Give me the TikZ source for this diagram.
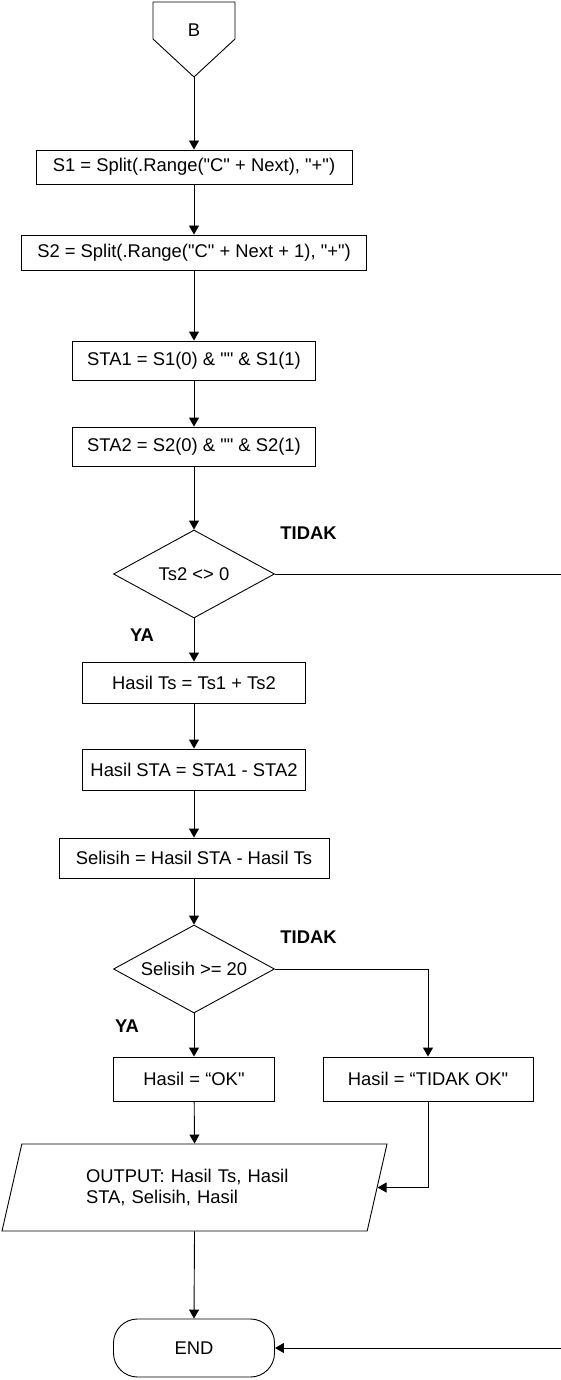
\documentclass[tikz,border=0pt]{standalone}
\usepackage{fontspec}
\setmainfont{Liberation Sans}[Ligatures=TeXOff]
\usetikzlibrary{arrows.meta,shapes.geometric}
\begin{document}
\begin{tikzpicture}[x=1pt,y=-1pt,
  every node/.style={font=\fontsize{18.4}{21}\selectfont},
  line/.style={line width=0.9pt},
  arr/.style={line, -{Triangle[length=9pt,width=10pt]}},
  proc/.style={draw, line width=0.9pt, rectangle, inner sep=0pt, anchor=center},
  decis/.style={draw, line width=0.9pt, diamond, inner sep=0pt, aspect=1.83, minimum width=161pt, minimum height=88pt},
  lbl/.style={font=\fontsize{18.4}{21}\selectfont\bfseries},
  iobox/.style={draw, line width=0.9pt, trapezium, trapezium left angle=61.6, trapezium right angle=118.4,
     trapezium stretches body, minimum width=385pt, minimum height=87pt, inner sep=0pt, text width=217pt, align=left},
  term/.style={draw, line width=0.9pt, rectangle, rounded corners=24pt, minimum width=161pt, minimum height=58pt}
]
\useasboundingbox (0,0) rectangle (561,1380);
% off-page connector B
\draw[line] (153,2) -- (235,2) -- (235,39) -- (194,77) -- (153,39) -- cycle;
\node (B) at (194,30) {B};
\coordinate (Btip) at (194,77);

\node[proc, minimum width=316pt, minimum height=34pt] (s1) at (194,167) {S1 = Split(.Range("C" + Next), "+")};
\node[proc, minimum width=345pt, minimum height=35pt] (s2) at (194,252.5) {S2 = Split(.Range("C" + Next + 1), "+")};
\node[proc, minimum width=243pt, minimum height=39pt] (sta1) at (194,360.5) {STA1 = S1(0) \& "" \& S1(1)};
\node[proc, minimum width=243pt, minimum height=39pt] (sta2) at (194,446.5) {STA2 = S2(0) \& "" \& S2(1)};
\node[decis] (d1) at (194,574) {Ts2 <> 0};
\node[lbl] (t1) at (308.5,533) {TIDAK};
\node[lbl] (y1) at (142,635) {YA};
\coordinate (r1) at (561,574);
\node[proc, minimum width=223pt, minimum height=41pt] (hts) at (194,682.5) {Hasil Ts = Ts1 + Ts2};
\node[proc, minimum width=223pt, minimum height=41pt] (hsta) at (194,769.5) {Hasil STA = STA1 - STA2};
\node[proc, minimum width=270pt, minimum height=40pt] (sel) at (194,858) {Selisih = Hasil STA - Hasil Ts};
\node[decis] (d2) at (194,969) {Selisih >= 20};
\node[lbl] (t2) at (308.5,937) {TIDAK};
\node[lbl] (y2) at (127,1026) {YA};
\node[proc, minimum width=161pt, minimum height=44pt] (ok) at (194,1079) {Hasil = “OK"};
\node[proc, minimum width=210pt, minimum height=44pt] (tok) at (428,1079) {Hasil = “TIDAK OK"};
\node[iobox] (out) at (194.5,1187.5) {OUTPUT: Hasil Ts, Hasil\\STA, Selisih, Hasil};
\node[term] (end) at (194,1348) {END};
\coordinate (r2) at (561,1348);

\draw[arr] (Btip) -- (s1);
\draw[arr] (s1) -- (s2);
\draw[arr] (s2) -- (sta1);
\draw[arr] (sta1) -- (sta2);
\draw[arr] (sta2) -- (d1);
\draw[line] (d1.east) -- (r1);
\draw[arr] (d1.south) -- (hts);
\draw[arr] (hts) -- (hsta);
\draw[arr] (hsta) -- (sel);
\draw[arr] (sel) -- (d2.north);
\draw[arr] (d2.east) -| (tok.north);
\draw[arr] (d2.south) -- (ok);
\draw[arr] (ok) -- (out.north);
\draw[arr] (tok.south) |- (out.east);
\draw[arr] (out.south) -- (end.north);
\draw[arr] (r2) -- (end.east);
\end{tikzpicture}
\end{document}
